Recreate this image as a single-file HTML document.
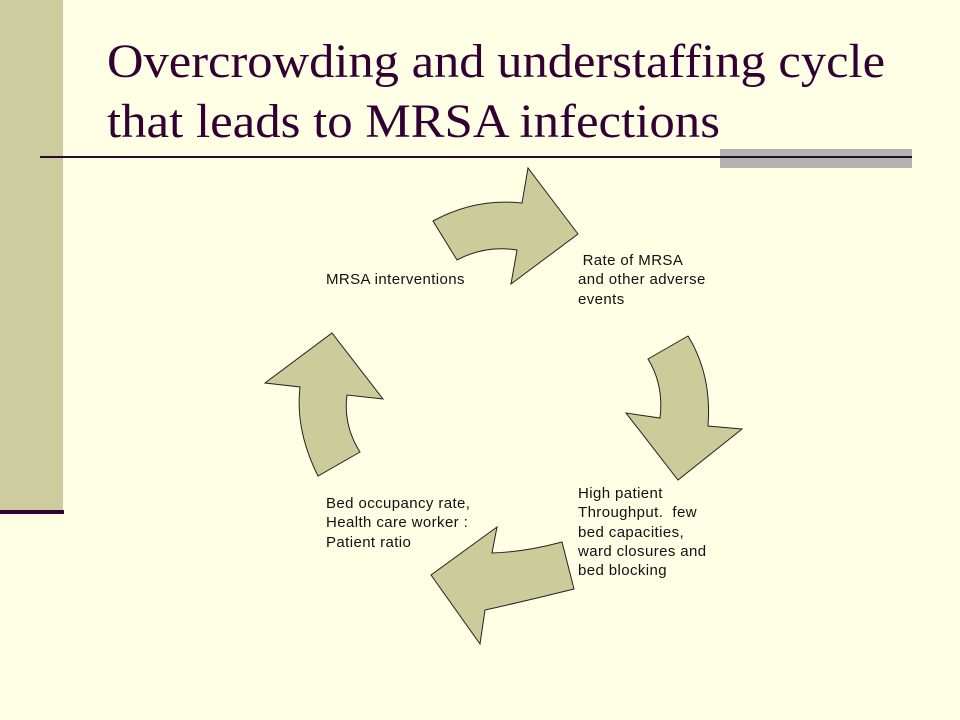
<!DOCTYPE html>
<html><head><meta charset="utf-8"><style>
html,body{margin:0;padding:0;}
body{width:960px;height:720px;background:#FFFFE5;position:relative;overflow:hidden;font-family:"Liberation Sans",Arial,sans-serif;}
.t{position:absolute;font-size:15px;letter-spacing:0.4px;line-height:19.3px;color:#111;white-space:nowrap;}
</style></head><body>
<svg width="960" height="720" style="position:absolute;left:0;top:0">
<rect x="0" y="0" width="63" height="511" fill="#CCCC9E"/>
<rect x="0" y="510" width="64" height="4" fill="#330033"/>
<rect x="720" y="149" width="192" height="19" fill="#B2B2B2"/>
<rect x="40" y="156" width="872" height="2" fill="#2A0A2A"/>
<text x="107" y="77" font-family="Liberation Serif, serif" font-size="48" fill="#330033" textLength="778" lengthAdjust="spacingAndGlyphs">Overcrowding and understaffing cycle</text>
<text x="107" y="137" font-family="Liberation Serif, serif" font-size="48" fill="#330033" textLength="613" lengthAdjust="spacingAndGlyphs">that leads to MRSA infections</text>
<g fill="#CCCB9A" stroke="#222" stroke-width="1">
<path d="M433,221 Q475,198 522,203 L528,168 L578,234 L511,284 L517,250 Q485,245 457,260 Z"/>
<path d="M688,336 Q712,375 708,426 L742,429 L678,480 L626,413 L660,418 Q664,385 648,359 Z"/>
<path d="M562,542 Q525,552 492,553 L497,527 L431,575 L480,644 L485,610 Q530,600 574,589 Z"/>
<path d="M318,476 Q295,430 300,387 L265,383 L332,333 L383,399 L347,395 Q343,425 360,452 Z"/>
</g>
</svg>
<div class="t" style="left:326px;top:270px">MRSA interventions</div>
<div class="t" style="left:578px;top:251px">&nbsp;Rate of MRSA<br>and other adverse<br>events</div>
<div class="t" style="left:578px;top:484px">High patient<br>Throughput.&nbsp; few<br>bed capacities,<br>ward closures and<br>bed blocking</div>
<div class="t" style="left:326px;top:494px">Bed occupancy rate,<br>Health care worker :<br>Patient ratio</div>
</body></html>
